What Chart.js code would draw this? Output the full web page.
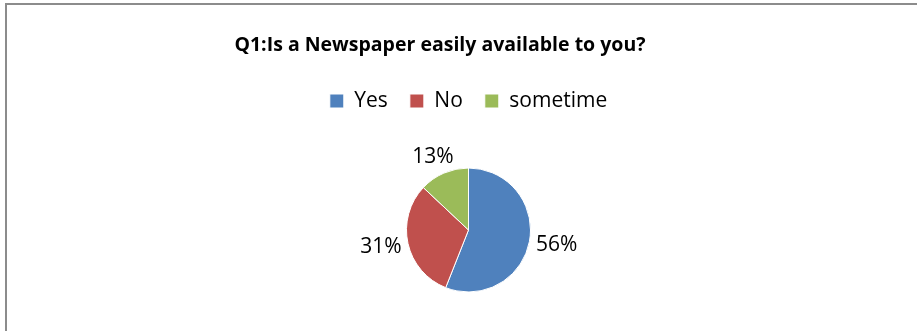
<!DOCTYPE html>
<html>
<head>
<meta charset="utf-8">
<script src="https://cdn.jsdelivr.net/npm/chart.js@4"></script>
<style>
  html, body { margin: 0; padding: 0; background: #fff; }
  #wrap { width: 917px; height: 331px; position: relative; }
</style>
</head>
<body>
<div id="wrap"><canvas id="pie"></canvas></div>
<script>
const labels = ["Yes", "No", "sometime"];
const shares = [56, 31, 13];
const colors = ["#4F81BD", "#C0504D", "#9BBB59"];
const titleText = "Q1:Is a Newspaper easily available to you?";

// grey frame along the top and left edges, plus the title
const frame = {
  id: "frame",
  beforeDraw(chart) {
    const c = chart.ctx;
    c.save();
    c.fillStyle = "#8c8c8c";
    c.fillRect(5, 3, chart.width - 5, 2);
    c.fillRect(5, 3, 2, chart.height - 3);
    c.fillStyle = "#000";
    c.font = "bold 19.5px 'Open Sans'";
    c.textAlign = "center";
    c.textBaseline = "middle";
    c.fillText(titleText, 440, 45);
    c.restore();
  },
};

// legend takes up the space down to the top of the pie
const legendHeight = {
  id: "legendHeight",
  beforeInit(chart) {
    const fit = chart.legend.fit;
    chart.legend.fit = function () {
      fit.call(this);
      this.height = 99;
    };
  },
};

// percent labels just outside each slice
const outsideLabels = {
  id: "outsideLabels",
  afterDatasetsDraw(chart) {
    const c = chart.ctx;
    const meta = chart.getDatasetMeta(0);
    c.save();
    c.font = "21px 'Open Sans'";
    c.fillStyle = "#000";
    c.textAlign = "center";
    c.textBaseline = "middle";
    meta.data.forEach((arc, i) => {
      const mid = (arc.startAngle + arc.endAngle) / 2;
      const cos = Math.cos(mid), sin = Math.sin(mid);
      const txt = shares[i] + "%";
      const hw = c.measureText(txt).width / 2, hh = 10;
      const r = arc.outerRadius + 7;
      c.fillText(txt, arc.x + cos * (r + hw), arc.y + sin * (r + hh));
    });
    c.restore();
  },
};

new Chart(document.getElementById("pie"), {
  type: "pie",
  data: {
    labels: labels,
    datasets: [
      {
        data: shares,
        backgroundColor: colors,
        borderColor: "#ffffff",
        borderWidth: 1,
      },
    ],
  },
  options: {
    responsive: true,
    maintainAspectRatio: false,
    animation: false,
    layout: { padding: { top: 68.5, bottom: 38.5, left: 20, right: 0 } },
    plugins: {
      title: { display: false },
      legend: {
        display: true,
        labels: {
          color: "#000",
          font: { family: "'Open Sans'", size: 21 },
          boxWidth: 14,
          boxHeight: 14,
          padding: 22,
        },
      },
      tooltip: { enabled: false },
    },
  },
  plugins: [frame, legendHeight, outsideLabels],
});
</script>
</body>
</html>
